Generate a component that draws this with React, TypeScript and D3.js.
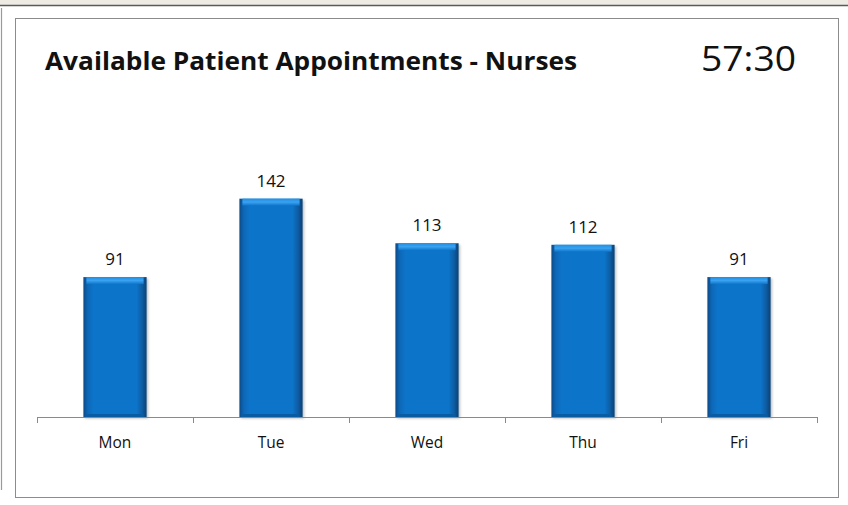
import React from "react";
import * as d3 from "d3";

const days = ["Mon", "Tue", "Wed", "Thu", "Fri"];
const appointments = [91, 142, 113, 112, 91];
const titleText = "Available Patient Appointments - Nurses";
const timerText = "57:30";

const W = 848;
const H = 505;
const FONT = "'Open Sans', 'Noto Sans', sans-serif";

export default function App() {
  const x = d3.scaleBand<string>().domain(days).range([37, 817]).paddingInner(0).paddingOuter(0);
  const y = d3.scaleLinear().domain([0, 160]).range([417, 171]);
  const bw = x.bandwidth() * 0.405;
  const ticks = [...days.map((d) => x(d) as number), 817];

  return (
    <svg width={W} height={H} style={{ position: "absolute", left: 0, top: 0 }} fontFamily={FONT}>
      <defs>
        <linearGradient id="barH" x1="0" x2="1" y1="0" y2="0">
          <stop offset="0" stopColor="#0b4a86" />
          <stop offset="0.07" stopColor="#0d68b8" />
          <stop offset="0.16" stopColor="#0d74c9" />
          <stop offset="0.84" stopColor="#0d74c9" />
          <stop offset="0.93" stopColor="#0a5ca2" />
          <stop offset="1" stopColor="#083f73" />
        </linearGradient>
        <linearGradient id="barTop" x1="0" x2="0" y1="0" y2="1">
          <stop offset="0" stopColor="#1f8fe6" />
          <stop offset="0.5" stopColor="#3aa2f0" />
          <stop offset="1" stopColor="#0d74c9" />
        </linearGradient>
        <filter id="sh" x="-20%" y="-20%" width="140%" height="140%">
          <feDropShadow dx="1.5" dy="1.5" stdDeviation="1.2" floodColor="#000" floodOpacity="0.25" />
        </filter>
      </defs>
      <rect x={0} y={0} width={W} height={H} fill="#ffffff" />
      <rect x={0} y={0} width={W} height={5} fill="#eeebe5" />
      <line x1={0} x2={W} y1={5.5} y2={5.5} stroke="#5a5a5a" strokeWidth={1.5} />
      <line x1={1.5} x2={1.5} y1={8} y2={490} stroke="#9a9a9a" strokeWidth={1.2} />
      <rect x={15.5} y={18.5} width={823} height={479} fill="#ffffff" stroke="#8c8c8c" strokeWidth={1} />

      <text x={45} y={70} fontSize={25} fontWeight={700} fill="#111" textLength={532} lengthAdjust="spacingAndGlyphs">
        {titleText}
      </text>
      <text x={701} y={71} fontSize={35} fill="#111" textLength={95} lengthAdjust="spacingAndGlyphs">
        {timerText}
      </text>

      {days.map((d, i) => {
        const cx = (x(d) as number) + x.bandwidth() / 2;
        const top = y(appointments[i]);
        const h = y(0) - top;
        return (
          <g key={d}>
            <g filter="url(#sh)">
              <rect x={cx - bw / 2} y={top} width={bw} height={h} fill="url(#barH)" />
            </g>
            <rect x={cx - bw / 2 + 3} y={top} width={bw - 6} height={7} fill="url(#barTop)" />
            <rect x={cx - bw / 2 + 3} y={y(0) - 3} width={bw - 6} height={3} fill="#0a5ca2" />
            <text x={cx} y={top - 12} fontSize={17} textAnchor="middle" fill="#111">
              {appointments[i]}
            </text>
            <text x={cx} y={448} fontSize={15.5} textAnchor="middle" fill="#111">
              {d}
            </text>
          </g>
        );
      })}

      <line x1={37} x2={817} y1={417.5} y2={417.5} stroke="#8a8a8a" strokeWidth={1} />
      {ticks.map((t, i) => (
        <line key={i} x1={t + 0.5} x2={t + 0.5} y1={417} y2={423} stroke="#8a8a8a" strokeWidth={1} />
      ))}
    </svg>
  );
}
